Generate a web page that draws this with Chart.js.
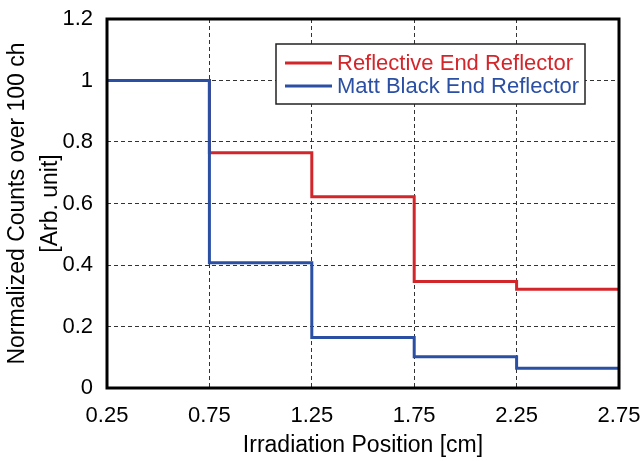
<!DOCTYPE html>
<html>
<head>
<meta charset="utf-8">
<script src="https://cdn.jsdelivr.net/npm/chart.js@4"></script>
<style>
  html, body { margin: 0; padding: 0; background: #fff; }
  #wrap { width: 643px; height: 461px; }
</style>
</head>
<body>
<div id="wrap"><canvas id="stepChart" width="643" height="461"></canvas></div>
<script>
// bin edges along the irradiation position (cm)
const positions = [0.25, 0.75, 1.25, 1.75, 2.25, 2.75];
// normalized counts per bin
const reflectiveValues = [1.0, 0.765, 0.622, 0.346, 0.321];
const mattBlackValues = [1.0, 0.407, 0.164, 0.102, 0.064];
const seriesNames = ["Reflective End Reflector", "Matt Black End Reflector"];
const seriesColors = ["#d3262b", "#2a4fa3"];
const xTicks = [0.25, 0.75, 1.25, 1.75, 2.25, 2.75];
const yTicks = [0, 0.2, 0.4, 0.6, 0.8, 1, 1.2];

const FONT = "'Liberation Sans', Arial, sans-serif";

// each bin value sits on its left edge, last value repeated at the right edge
function toSteps(values) {
    const pts = values.map((v, i) => ({ x: positions[i], y: v }));
    pts.push({ x: positions[positions.length - 1], y: values[values.length - 1] });
    return pts;
}

// frame around the plot area
const frameBox = {
    id: "frameBox",
    afterDraw(chart) {
        const { ctx, chartArea: a } = chart;
        ctx.save();
        ctx.strokeStyle = "#000";
        ctx.lineWidth = 3;
        ctx.strokeRect(a.left, a.top, a.right - a.left, a.bottom - a.top);
        ctx.restore();
    }
};

// legend box in the upper right of the plot
const boxLegend = {
    id: "boxLegend",
    afterDraw(chart) {
        const ctx = chart.ctx;
        const x = 276, y = 44, w = 309, h = 60;
        ctx.save();
        ctx.fillStyle = "#fff";
        ctx.fillRect(x, y, w, h);
        ctx.strokeStyle = "#222";
        ctx.lineWidth = 1.5;
        ctx.strokeRect(x, y, w, h);
        ctx.font = "22px " + FONT;
        ctx.textBaseline = "middle";
        chart.data.datasets.forEach((ds, i) => {
            const ly = y + 19 + i * 23;
            ctx.strokeStyle = ds.borderColor;
            ctx.lineWidth = 3;
            ctx.beginPath();
            ctx.moveTo(x + 9, ly);
            ctx.lineTo(x + 56, ly);
            ctx.stroke();
            ctx.fillStyle = ds.borderColor;
            ctx.fillText(ds.label, x + 61, ly + 1, 244);
        });
        ctx.restore();
    }
};

const gridStyle = {
    color: "#333",
    lineWidth: 1,
    drawTicks: false
};

new Chart(document.getElementById("stepChart"), {
    type: "line",
    data: {
        datasets: [
            {
                label: seriesNames[0],
                data: toSteps(reflectiveValues),
                borderColor: seriesColors[0],
                borderWidth: 3,
                stepped: "before",
                pointRadius: 0,
                fill: false,
                order: 2
            },
            {
                label: seriesNames[1],
                data: toSteps(mattBlackValues),
                borderColor: seriesColors[1],
                borderWidth: 3,
                stepped: "before",
                pointRadius: 0,
                fill: false,
                order: 1
            }
        ]
    },
    options: {
        responsive: false,
        animation: false,
        layout: { padding: { left: 0, right: 24, top: 19, bottom: 0 } },
        plugins: {
            legend: { display: false },
            tooltip: { enabled: false }
        },
        scales: {
            x: {
                type: "linear",
                min: 0.25,
                max: 2.75,
                afterBuildTicks: (s) => { s.ticks = xTicks.map(v => ({ value: v })); },
                afterFit: (s) => {
                    s.height = 73;
                    s.paddingLeft = 0;
                    s.paddingRight = 0;
                },
                grid: gridStyle,
                border: { display: false, dash: [4, 3] },
                ticks: {
                    color: "#000",
                    font: { family: FONT, size: 22 },
                    padding: 15,
                    maxRotation: 0,
                    callback: (v) => String(v)
                },
                title: {
                    display: true,
                    text: "Irradiation Position [cm]",
                    color: "#000",
                    font: { family: FONT, size: 23, lineHeight: 1.0 },
                    padding: { top: 0, bottom: 4 }
                }
            },
            y: {
                type: "linear",
                min: 0,
                max: 1.2,
                afterBuildTicks: (s) => { s.ticks = yTicks.map(v => ({ value: v })); },
                afterFit: (s) => {
                    s.width = 107;
                    s.paddingTop = 0;
                    s.paddingBottom = 0;
                },
                grid: gridStyle,
                border: { display: false, dash: [4, 3] },
                ticks: {
                    color: "#000",
                    font: { family: FONT, size: 22 },
                    padding: 14,
                    callback: (v) => String(v)
                },
                title: {
                    display: true,
                    text: ["Normalized Counts over 100 ch", "[Arb. unit]"],
                    color: "#000",
                    font: { family: FONT, size: 23, lineHeight: 1.45 },
                    padding: { top: 1, bottom: 0 }
                }
            }
        }
    },
    plugins: [frameBox, boxLegend]
});
</script>
</body>
</html>
